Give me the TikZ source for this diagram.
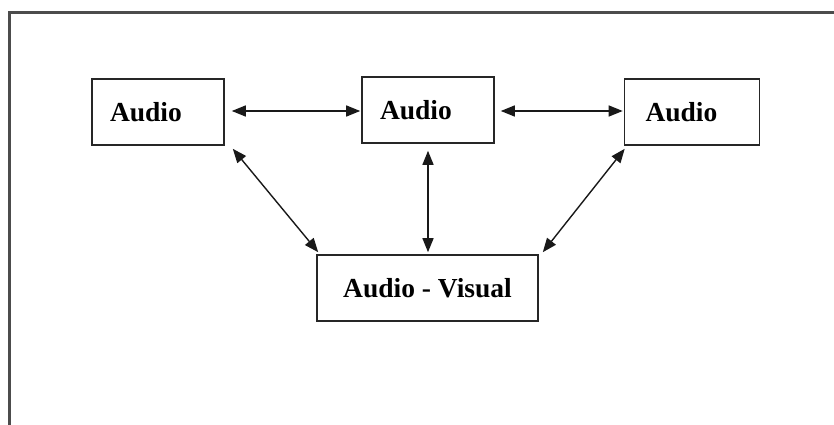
\documentclass[tikz,border=0pt]{standalone}
\usepackage{fontspec}
\setmainfont{Liberation Serif}
\usetikzlibrary{arrows.meta,calc}
\begin{document}
\begin{tikzpicture}[x=1pt,y=-1pt,
  box/.style={draw=black!85, line width=1.6pt, fill=white, inner sep=0pt,
    minimum height=66pt, font=\fontsize{27.5}{30}\selectfont\bfseries},
  lbox/.style={box, text width=96pt, inner xsep=18pt, align=left},
  conn/.style={line width=1.4pt, black!90, {Triangle[length=14pt,width=11pt]}-{Triangle[length=14pt,width=11pt]}},
  frame/.style={line width=3pt, black!70}]
\useasboundingbox (0,0) rectangle (834,425);
\draw[frame] (9.5,427) -- (9.5,13) -- (836,13);
\node[lbox] (b1) at (158,112) {Audio};
\node[lbox] (b2) at (428,110) {Audio};
\node[lbox, text width=93pt, inner xsep=21pt] (b3) at (692,112) {Audio};
\node[box, minimum width=221pt] (b4) at (427.5,288) {Audio - Visual};
\draw[conn] ($(b1.east)+(7,-1)$) -- ($(b2.west)+(-1,1)$);
\draw[conn] ($(b2.east)+(6,1)$) -- ($(b3.west)+(-1,-1)$);
\draw[conn] ($(b2.south)+(0,7)$) -- ($(b4.north)+(0.5,-2)$);
\draw[conn] ($(b1.south east)+(8,3)$) -- ($(b4.north west)+(2,-2)$);
\draw[conn] ($(b3.south west)+(1,3)$) -- ($(b4.north east)+(4,-2)$);
\end{tikzpicture}
\end{document}
